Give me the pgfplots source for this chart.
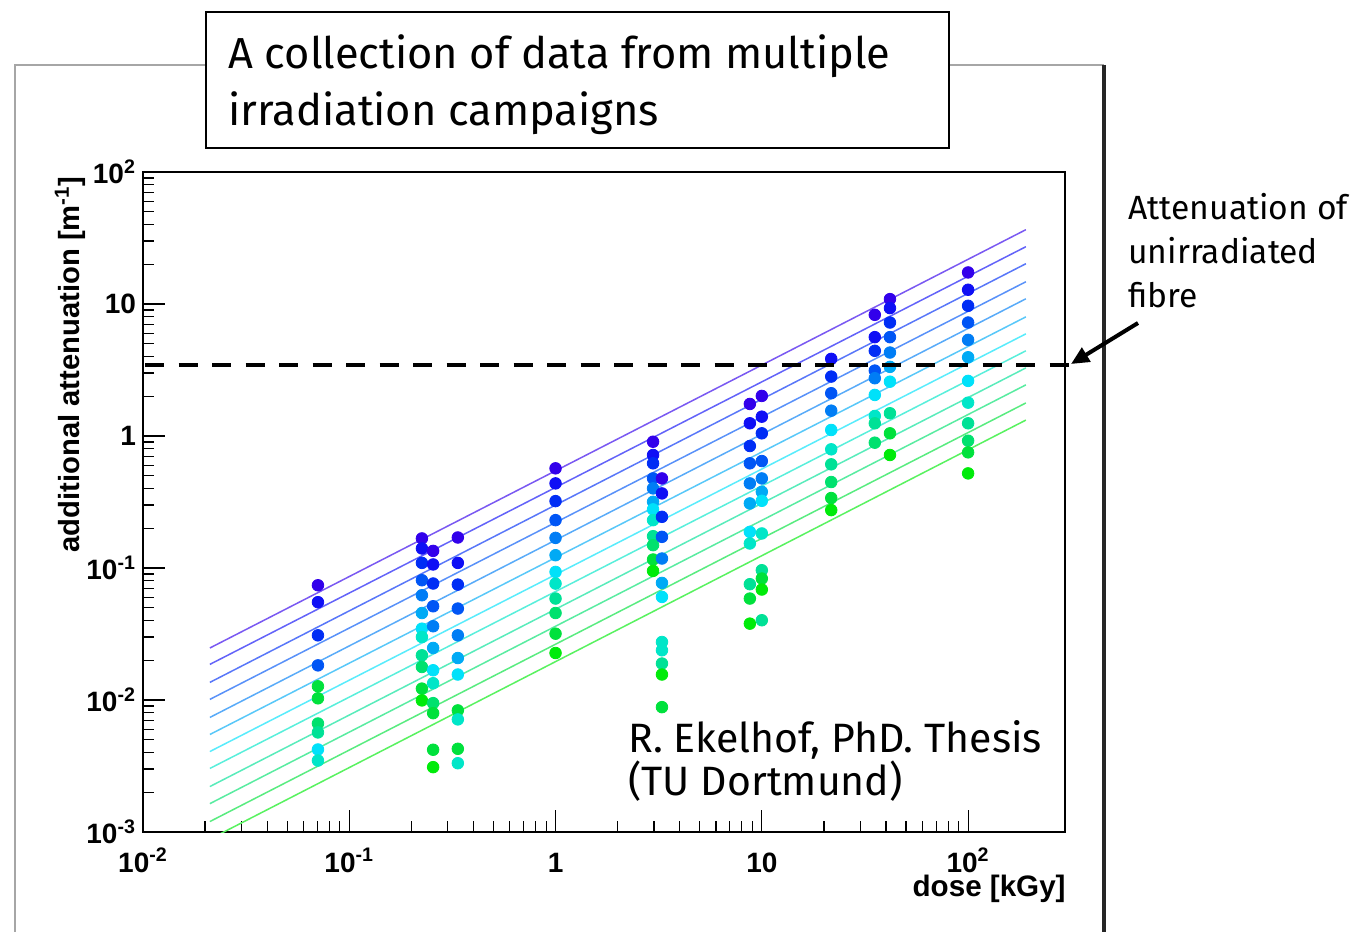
\documentclass[border=0pt]{standalone}
\usepackage{fontspec}
\setmainfont{Fira Sans}
\newfontfamily\rootfont{Liberation Sans}
\usepackage{pgfplots}
\pgfplotsset{compat=1.18}
\usetikzlibrary{arrows.meta}

\definecolor{c0}{RGB}{50,0,235}
\definecolor{c1}{RGB}{15,15,245}
\definecolor{c2}{RGB}{0,45,245}
\definecolor{c3}{RGB}{0,85,245}
\definecolor{c4}{RGB}{0,125,245}
\definecolor{c5}{RGB}{0,170,245}
\definecolor{c6}{RGB}{0,225,250}
\definecolor{c7}{RGB}{0,230,200}
\definecolor{c8}{RGB}{0,225,150}
\definecolor{c9}{RGB}{0,225,110}
\definecolor{c10}{RGB}{0,225,60}
\definecolor{c11}{RGB}{0,235,10}

\begin{document}
\begin{tikzpicture}
\path[use as bounding box, fill=white] (0,0) rectangle (679pt,466pt);
\begin{scope}[shift={(0pt,466pt)},x=0.5pt,y=-0.5pt]
\draw[black!35, line width=0.75pt] (15,932) -- (15,65) -- (1104,65);
\draw[black!85, line width=2pt] (1104,65) -- (1104,932);
\draw[black, line width=1pt, fill=white] (206,12) rectangle (949,148);
\node[anchor=base west, inner sep=0, font=\fontsize{21.7}{26}\selectfont] at (228,69) {A collection of data from multiple};
\node[anchor=base west, inner sep=0, font=\fontsize{21.7}{26}\selectfont] at (228,126) {irradiation campaigns};
\end{scope}

\begin{axis}[
  at={(71.5pt,50pt)}, anchor=south west,
  scale only axis, width=461pt, height=330pt,
  xmode=log, ymode=log,
  xmin=0.01, xmax=295, ymin=0.001, ymax=100,
  axis line style={line width=0.75pt, black},
  tick align=inside, xtick pos=left, ytick pos=left,
  major tick length=11pt, minor tick length=5.5pt,
  every tick/.style={black, line width=0.6pt},
  xtick={0.01,0.1,1,10,100},
  xticklabels={10\textsuperscript{-2},10\textsuperscript{-1},1,10,10\textsuperscript{2}},
  ytick={0.001,0.01,0.1,1,10,100},
  yticklabels={10\textsuperscript{-3},10\textsuperscript{-2},10\textsuperscript{-1},1,10,10\textsuperscript{2}},
  tick label style={font=\rootfont\bfseries\fontsize{14}{16}\selectfont},
  xticklabel style={anchor=base, yshift=-20pt, inner sep=0.5pt},
  colormap={pts}{rgb255=(50,0,235) rgb255=(15,15,245) rgb255=(0,45,245) rgb255=(0,85,245) rgb255=(0,125,245) rgb255=(0,170,245) rgb255=(0,225,250) rgb255=(0,230,200) rgb255=(0,225,150) rgb255=(0,225,110) rgb255=(0,225,60) rgb255=(0,235,10)},
  point meta min=0, point meta max=11,
]
\addplot[no marks, line width=0.75pt, c0!65!white] coordinates {(0.0211,0.02477) (190.6,36.56)};
\addplot[no marks, line width=0.75pt, c1!65!white] coordinates {(0.0211,0.01862) (190.6,27.17)};
\addplot[no marks, line width=0.75pt, c2!65!white] coordinates {(0.0211,0.01360) (190.6,20.19)};
\addplot[no marks, line width=0.75pt, c3!65!white] coordinates {(0.0211,0.01011) (190.6,14.74)};
\addplot[no marks, line width=0.75pt, c4!65!white] coordinates {(0.0211,0.00738) (190.6,10.95)};
\addplot[no marks, line width=0.75pt, c5!65!white] coordinates {(0.0211,0.00548) (190.6,7.99)};
\addplot[no marks, line width=0.75pt, c6!65!white] coordinates {(0.0211,0.00407) (190.6,5.94)};
\addplot[no marks, line width=0.75pt, c7!65!white] coordinates {(0.0211,0.00303) (190.6,4.42)};
\addplot[no marks, line width=0.75pt, c8!65!white] coordinates {(0.0211,0.00221) (190.6,3.28)};
\addplot[no marks, line width=0.75pt, c9!65!white] coordinates {(0.0211,0.00164) (190.6,2.44)};
\addplot[no marks, line width=0.75pt, c10!65!white] coordinates {(0.0211,0.00120) (190.6,1.78)};
\addplot[no marks, line width=0.75pt, c11!65!white] coordinates {(0.0211,0.000883) (190.6,1.32)};

\addplot[scatter, only marks, mark=*, mark size=2.9pt, point meta=explicit,
  scatter/use mapped color={draw=mapped color, fill=mapped color}]
  table[x=x, y=y, meta=c] {
x y c
0.0705 0.0740 0
0.0705 0.0551 1
0.0705 0.0309 2
0.0705 0.0183 3
0.0705 0.0127 10
0.0705 0.0103 10
0.0705 0.00664 9
0.0705 0.00568 8
0.0705 0.00422 6
0.0705 0.00348 7
0.225 0.1675 0
0.225 0.1406 1
0.225 0.1093 2
0.225 0.0808 3
0.225 0.0622 4
0.225 0.0456 5
0.225 0.0347 6
0.225 0.0300 7
0.225 0.0218 8
0.225 0.0178 9
0.225 0.0122 10
0.225 0.00993 11
0.255 0.1348 0
0.255 0.1064 1
0.255 0.0763 2
0.255 0.0513 3
0.255 0.0362 4
0.255 0.0248 5
0.255 0.0168 6
0.255 0.0134 7
0.255 0.00947 9
0.255 0.00795 10
0.255 0.00420 10
0.255 0.00310 11
0.336 0.1703 0
0.336 0.1093 1
0.336 0.0749 2
0.336 0.0493 3
0.336 0.0309 4
0.336 0.0208 5
0.336 0.0156 6
0.336 0.00834 10
0.336 0.00713 7
0.336 0.00427 10
0.336 0.00332 7
1 0.569 0
1 0.4375 1
1 0.3212 2
1 0.2305 3
1 0.1691 4
1 0.1250 5
1 0.0934 6
1 0.0762 7
1 0.0587 8
1 0.0456 9
1 0.0318 10
1 0.0227 11
2.97 0.905 0
2.97 0.718 1
2.97 0.621 2
2.97 0.477 3
2.97 0.401 4
2.97 0.3174 5
2.97 0.278 6
2.97 0.2305 7
2.97 0.1742 8
2.97 0.149 9
2.97 0.1160 10
2.97 0.0951 11
3.28 0.477 0
3.28 0.3674 1
3.28 0.2442 2
3.28 0.1722 3
3.28 0.1180 4
3.28 0.0771 5
3.28 0.0604 6
3.28 0.0275 7
3.28 0.0238 7
3.28 0.0189 8
3.28 0.0156 11
3.28 0.00883 10
8.75 1.749 0
8.75 1.248 1
8.75 0.840 2
8.75 0.621 3
8.75 0.4375 4
8.75 0.3085 5
8.75 0.1878 6
8.75 0.1534 7
8.75 0.0754 8
8.75 0.0587 10
8.75 0.0379 11
10 2.012 0
10 1.401 1
10 1.048 2
10 0.646 3
10 0.477 4
10 0.378 5
10 0.323 6
10 0.1827 7
10 0.0962 8
10 0.0832 10
10 0.0687 11
10 0.0402 8
21.7 3.84 1
21.7 2.82 2
21.7 2.109 3
21.7 1.556 4
21.7 1.111 6
21.7 0.793 7
21.7 0.610 8
21.7 0.448 9
21.7 0.3388 10
21.7 0.2746 11
35.3 8.28 0
35.3 5.61 1
35.3 4.42 2
35.3 3.13 3
35.3 2.74 4
35.3 2.047 6
35.3 1.418 7
35.3 1.248 8
35.3 0.890 9
41.8 10.89 0
41.8 9.31 1
41.8 7.24 2
41.8 5.61 3
41.8 4.29 4
41.8 3.34 5
41.8 2.58 6
41.8 1.487 8
41.8 1.048 10
41.8 0.718 11
100 17.34 0
100 12.82 1
100 9.69 2
100 7.24 3
100 5.35 4
100 3.95 5
100 2.615 6
100 1.789 7
100 1.248 8
100 0.921 9
100 0.752 10
100 0.521 11
};
\end{axis}

\begin{scope}[shift={(0pt,466pt)},x=0.5pt,y=-0.5pt]
\draw[black, line width=2pt, dash pattern=on 9.5pt off 7.25pt] (145,365) -- (1070,365);
\draw[black, line width=2pt, -{Triangle[length=9pt,width=8pt]}] (1138,323) -- (1071,364);
\node[rotate=90, anchor=east, inner sep=0, font=\rootfont\bfseries\fontsize{14.6}{16}\selectfont] at (70,176) {additional attenuation [m\textsuperscript{-1}]};
\node[anchor=base east, inner sep=0, font=\rootfont\bfseries\fontsize{14.8}{16}\selectfont] at (1066,896) {dose [kGy]};
\node[anchor=base west, inner sep=0, font=\fontsize{16.8}{20}\selectfont] at (1128,220) {Attenuation of};
\node[anchor=base west, inner sep=0, font=\fontsize{16.8}{20}\selectfont] at (1128,264) {unirradiated};
\node[anchor=base west, inner sep=0, font=\fontsize{16.8}{20}\selectfont] at (1128,308) {fibre};
\node[anchor=base west, inner sep=0, font=\fontsize{20.5}{22}\selectfont] at (628,752) {R. Ekelhof, PhD. Thesis};
\node[anchor=base west, inner sep=0, font=\fontsize{20.5}{22}\selectfont] at (628,795) {(TU Dortmund)};
\end{scope}
\end{tikzpicture}
\end{document}
